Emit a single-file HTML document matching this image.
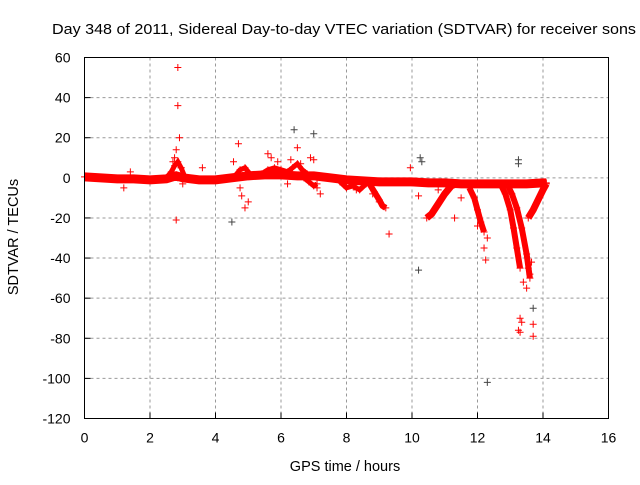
<!DOCTYPE html>
<html><head><meta charset="utf-8">
<style>
body{margin:0;background:#fff;}
svg text{font-family:"Liberation Sans",Arial,sans-serif;}
</style></head>
<body>
<svg id="chart" width="640" height="480" viewBox="0 0 640 480" xmlns="http://www.w3.org/2000/svg">
<rect width="640" height="480" fill="#fff"/>
<text x="52" y="34" font-size="15" textLength="584" lengthAdjust="spacingAndGlyphs" fill="#000">Day 348 of 2011, Sidereal Day-to-day VTEC variation (SDTVAR) for receiver sons</text>
<text transform="translate(18,237) rotate(-90)" text-anchor="middle" font-size="14.5">SDTVAR / TECUs</text>
<text x="345" y="471" text-anchor="middle" font-size="14.5">GPS time / hours</text>
<g id="grid"></g>
<g id="marks"></g>
<rect x="84.5" y="57.5" width="524" height="361" fill="none" stroke="#000" stroke-width="1"/>
</svg>
<script>
const xTicks=[0,2,4,6,8,10,12,14,16];
const yTicks=[60,40,20,0,-20,-40,-60,-80,-100,-120];
// main dense band center (hours, TECU)
const bandT=[0,0.5,1,1.5,2,2.5,2.8,3,3.5,4,4.5,5,5.5,6,6.5,7,7.5,8,8.5,9,9.5,10,10.5,11,11.5,12,12.5,13,13.5,14,14.1];
const bandV=[0.5,0,-0.5,-0.5,-1,-0.5,1,0,-1,-1,0,1,1.5,1.5,1,1,0,-1,-1.5,-2,-2,-2,-2.5,-2.5,-3,-3,-3,-3,-3,-2.5,-2.5];
// secondary clutter tracks around band
const humpAT=[2.5,2.65,2.75,2.85,2.95,3.05];
const humpAV=[0,3,6,8,5,1];
const humpBT=[4.6,4.75,4.9,5.05];
const humpBV=[1,4,5,2];
const humpCT=[5.4,5.6,5.8,6.0,6.2,6.35,6.5,6.65,6.8];
const humpCV=[2,4,5,4,3,5,7,4,2];
const lowAT=[7.8,8.0,8.2,8.4,8.6];
const lowAV=[-2,-5,-4,-6,-3];
const lowBT=[6.7,6.85,7.0,7.1];
const lowBV=[0,-2,-4,-3];
// dip tracks
const dip1T=[8.7,8.85,9.0,9.1,9.2];
const dip1V=[-3,-7,-11,-14,-15];
const dip2T=[10.45,10.6,10.8,11.0,11.2,11.35];
const dip2V=[-20,-18,-13,-8,-4,-3];
const dip3T=[11.75,11.9,12.0,12.1,12.2];
const dip3V=[-5,-10,-16,-22,-27];
const dip4T=[12.7,12.85,13.0,13.1,13.2,13.3];
const dip4V=[-3,-8,-16,-25,-35,-45];
const dip5T=[12.9,13.05,13.2,13.35,13.5,13.6];
const dip5V=[-3,-8,-15,-25,-38,-50];
const dip6T=[13.55,13.7,13.85,14.0,14.1];
const dip6V=[-20,-16,-11,-6,-3];
// scattered red outliers
const outT=[2.85,2.85,2.9,2.8,2.75,2.7,2.95,3.0,2.8,1.2,1.4,3.6,4.55,4.7,4.8,4.9,5.0,4.75,5.6,5.7,5.9,6.2,6.3,6.6,6.9,7.0,7.1,7.2,6.5,9.3,9.95,10.2,10.9,11.5,11.3,12.2,12.25,12.3,13.3,13.35,13.25,13.3,13.7,13.7,13.5,13.6,13.4,13.55,13.65,8.3,8.8,9.0,10.8,12.0,2.85];
const outV=[55,36,20,14,10,8,5,-3,-21,-5,3,5,8,17,-9,-15,-12,-5,12,10,8,-3,9,7,10,9,-5,-8,15,-28,5,-9,-2,-10,-20,-35,-41,-30,-70,-72,-76,-77,-73,-79,-55,-48,-52,-45,-42,-6,-8,-12,-6,-24,0];
// dark outliers
const darkT=[6.4,7.0,4.5,10.25,10.3,10.2,12.3,13.25,13.25,13.7];
const darkV=[24,22,-22,10,8,-46,-102,9,7,-65];

const X0=84.5,X1=608.5,Y0=418.5,Y1=57.5;
const xs=t=>X0+(t-0)/16*(X1-X0);
const ys=v=>Y0-(v+120)/180*(Y0-Y1);
const NS="http://www.w3.org/2000/svg";
const g=document.getElementById('grid'),m=document.getElementById('marks');
function mk(tag,attrs,parent){const e=document.createElementNS(NS,tag);for(const k in attrs)e.setAttribute(k,attrs[k]);parent.appendChild(e);return e;}
xTicks.forEach(t=>{
  const x=xs(t);
  if(t>0&&t<16){const l=mk('line',{x1:x,x2:x,y1:Y1,y2:Y0,stroke:'#999','stroke-dasharray':'3,3'},g);
  
  }
  mk('line',{x1:x,x2:x,y1:Y0,y2:Y0-6,stroke:'#000'},g);
  const tx=mk('text',{x:x,y:Y0+24,'text-anchor':'middle','font-size':'14'},g);tx.textContent=t;
  
  
});
yTicks.forEach(v=>{
  const y=ys(v);
  if(v>-120&&v<60){const l=mk('line',{x1:X0,x2:X1,y1:y,y2:y,stroke:'#999','stroke-dasharray':'3,3'},g);
  
  }
  mk('line',{x1:X0,x2:X0+6,y1:y,y2:y,stroke:'#000'},g);
  const tx=mk('text',{x:X0-14,y:y+5,'text-anchor':'end','font-size':'14'},g);tx.textContent=v;
  
  
});
function track(T,V,w,name){
  const pts=T.map((t,i)=>xs(t)+','+ys(V[i])).join(' ');
  const p=mk('polyline',{points:pts,fill:'none',stroke:'#f00','stroke-width':w,'stroke-linejoin':'miter','stroke-linecap':'butt'},m);
  
  
  T.forEach((t,i)=>plus(t,V[i],'#f00'));
}
function plus(t,v,c){
  const x=xs(t),y=ys(v);
  const p=mk('path',{d:`M${x-3.5},${y}H${x+3.5}M${x},${y-3.5}V${y+3.5}`,stroke:c,'stroke-width':1},m);
  
  
}
track(bandT,bandV,9,'main-band');
track(humpAT,humpAV,5,'hump-track-a');
track(humpBT,humpBV,5,'hump-track-b');
track(humpCT,humpCV,5,'hump-track-c');
track(lowAT,lowAV,5,'low-track-a');
track(lowBT,lowBV,5,'low-track-b');
track(dip1T,dip1V,6,'dip-track-1');
track(dip2T,dip2V,7,'dip-track-2');
track(dip3T,dip3V,6,'dip-track-3');
track(dip4T,dip4V,6,'dip-track-4');
track(dip5T,dip5V,6,'dip-track-5');
track(dip6T,dip6V,7,'dip-track-6');
outT.forEach((t,i)=>plus(t,outV[i],'#f00'));
darkT.forEach((t,i)=>plus(t,darkV[i],'#444'));
</script>
</body></html>
